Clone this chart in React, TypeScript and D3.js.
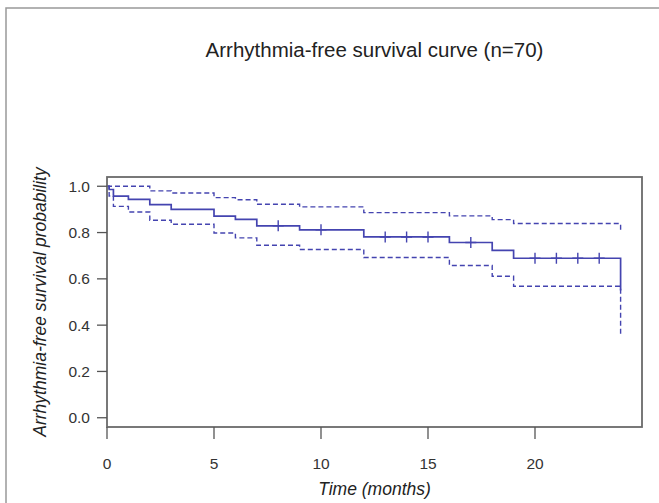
import React from "react";
import * as d3 from "d3";

const times = [0, 0.1, 0.3, 1, 2, 3, 5, 6, 7, 9, 12, 16, 18, 19, 24];
const survival = [1, 0.986, 0.957, 0.943, 0.921, 0.9, 0.871, 0.857, 0.829, 0.812, 0.781, 0.757, 0.723, 0.689, 0.55];
const upperCI = [1, 1, 1, 1, 0.98, 0.971, 0.951, 0.942, 0.922, 0.911, 0.886, 0.872, 0.856, 0.839, 0.8];
const lowerCI = [1, 0.958, 0.913, 0.889, 0.853, 0.836, 0.798, 0.777, 0.745, 0.727, 0.692, 0.658, 0.611, 0.568, 0.356];
const censorTimes = [8, 10, 13, 14, 15, 17, 20, 21, 22, 23];
const xTicks = [0, 5, 10, 15, 20];
const yTicks = [0, 0.2, 0.4, 0.6, 0.8, 1.0];

const W = 659;
const H = 503;
const FONT = "'Liberation Sans', Arial, Helvetica, sans-serif";
const BLUE = "#4444b0";

export default function App() {
  const x = d3.scaleLinear().domain([0, 25]).range([107, 642]);
  const y = d3.scaleLinear().domain([-0.04, 1.04]).range([427, 177]);

  const step = (vals: number[]) =>
    d3
      .line<number>()
      .x((_, i) => x(times[i]))
      .y((v) => y(v))
      .curve(d3.curveStepAfter)(vals) || "";

  const survAt = (t: number) => {
    let s = survival[0];
    for (let i = 0; i < times.length; i++) if (times[i] <= t) s = survival[i];
    return s;
  };

  return (
    <div style={{ position: "fixed", left: 0, top: 0 }}>
      <svg width={W} height={H} style={{ display: "block", background: "#fff" }}>
        {/* outer frame */}
        <path d={`M6,${H + 5}V8H${W + 5}`} fill="none" stroke="#999" strokeWidth={1.5} />
        <text x={374.5} y={57} textAnchor="middle" fontFamily={FONT} fontSize={20.5} fill="#222">
          Arrhythmia-free survival curve (n=70)
        </text>

        {/* CI lines */}
        <path d={step(upperCI)} fill="none" stroke={BLUE} strokeWidth={1.4} strokeDasharray="5,3" />
        <path d={step(lowerCI)} fill="none" stroke={BLUE} strokeWidth={1.4} strokeDasharray="5,3" />
        {/* survival curve */}
        <path d={step(survival)} fill="none" stroke={BLUE} strokeWidth={1.7} />
        {censorTimes.map((t) => {
          const cx = x(t);
          const cy = y(survAt(t));
          return (
            <path
              key={t}
              d={`M${cx - 5.5},${cy}H${cx + 5.5}M${cx},${cy - 5.5}V${cy + 5.5}`}
              stroke={BLUE}
              strokeWidth={1.4}
            />
          );
        })}

        {/* box */}
        <rect x={107} y={177} width={535} height={250} fill="none" stroke="#6a6a6a" strokeWidth={1.8} />

        {/* y axis */}
        {yTicks.map((v) => (
          <g key={v}>
            <line x1={97} x2={107} y1={y(v)} y2={y(v)} stroke="#555" strokeWidth={1.3} />
            <text x={90} y={y(v) + 5.5} textAnchor="end" fontFamily={FONT} fontSize={15.5} fill="#333">
              {v.toFixed(1)}
            </text>
          </g>
        ))}
        {/* x axis */}
        {xTicks.map((v) => (
          <g key={v}>
            <line x1={x(v)} x2={x(v)} y1={427} y2={439} stroke="#555" strokeWidth={1.3} />
            <text x={x(v)} y={469} textAnchor="middle" fontFamily={FONT} fontSize={15.5} fill="#333">
              {v}
            </text>
          </g>
        ))}
        <text x={374.5} y={495} textAnchor="middle" fontFamily={FONT} fontSize={17.5} fontStyle="italic" fill="#222">
          Time (months)
        </text>
        <text
          transform={`translate(46,302) rotate(-90)`}
          textAnchor="middle"
          fontFamily={FONT}
          fontSize={17.5}
          fontStyle="italic"
          fill="#222"
        >
          Arrhythmia-free survival probability
        </text>
      </svg>
    </div>
  );
}
